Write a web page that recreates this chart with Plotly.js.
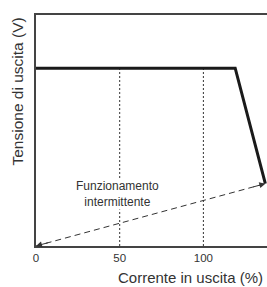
<!DOCTYPE html>
<html><head><meta charset="utf-8">
<script src="https://cdn.plot.ly/plotly-3.0.1.min.js"></script>
<style>html,body{margin:0;padding:0;background:#fff}</style>
</head><body>
<div id="chart" style="width:267px;height:287px"></div>
<script>
// Data
const curveX = [0, 119, 137];
const curveY = [77, 77, 27];
const intermX = [0, 137];
const intermY = [0, 27];
const refX = [50, 100];
const refTop = 77;
const tickVals = [0, 50, 100];
const tickText = ["0", "50", "100"];
const xTitle = "Corrente in uscita (%)";
const yTitle = "Tensione di uscita (V)";
const noteText = "Funzionamento<br>intermittente";

const traces = [];
refX.forEach(v => traces.push({
  x: [v, v], y: [0, refTop], mode: 'lines', hoverinfo: 'skip',
  line: {color: '#333', width: 1, dash: '2px,2px'}, showlegend: false
}));
traces.push({
  x: intermX, y: intermY, mode: 'lines',
  line: {color: '#333', width: 1, dash: '6px,4px'}, showlegend: false
});
traces.push({
  x: curveX, y: curveY, mode: 'lines',
  line: {color: '#1a1a1a', width: 3}, showlegend: false
});

const slope = intermY[1] / intermX[1];
const font = {family: 'Liberation Sans, Arial, sans-serif', color: '#333'};
const layout = {
  width: 267, height: 287,
  margin: {l: 36, r: 0, t: 15, b: 41},
  paper_bgcolor: '#fff', plot_bgcolor: '#fff',
  xaxis: {range: [0, 138], tickvals: tickVals, ticktext: tickText,
    showgrid: false, zeroline: false, showline: true, mirror: true,
    linecolor: '#444', linewidth: 2, ticks: '', ticklen: 0,
    tickfont: Object.assign({size: 11.5}, font)},
  yaxis: {range: [0, 100], showticklabels: false, showgrid: false, zeroline: false,
    showline: true, linecolor: '#444', linewidth: 2, ticks: ''},
  annotations: [
    {x: intermX[1], y: intermY[1], ax: intermX[1] - 8, ay: intermY[1] - 8 * slope,
     axref: 'x', ayref: 'y', xref: 'x', yref: 'y', text: '', showarrow: true,
     arrowhead: 2, arrowsize: 1.2, arrowwidth: 1, arrowcolor: '#333'},
    {x: intermX[0], y: intermY[0], ax: intermX[0] + 8, ay: intermY[0] + 8 * slope,
     axref: 'x', ayref: 'y', xref: 'x', yref: 'y', text: '', showarrow: true,
     arrowhead: 2, arrowsize: 1.2, arrowwidth: 1, arrowcolor: '#333'},
    {x: 48.5, y: 22.5, xref: 'x', yref: 'y', text: noteText, showarrow: false,
     bgcolor: '#fff', font: Object.assign({size: 12}, font), borderpad: 0},
    {x: 0.985, y: -0.137, xref: 'paper', yref: 'paper', xanchor: 'right', yanchor: 'middle',
     text: xTitle, showarrow: false, borderpad: 0, font: Object.assign({size: 15}, font)},
    {x: -0.082, y: 0.669, xref: 'paper', yref: 'paper', xanchor: 'center', yanchor: 'middle',
     text: yTitle, textangle: -90, showarrow: false, font: Object.assign({size: 15.5}, font)}
  ]
};
Plotly.newPlot('chart', traces, layout, {displayModeBar: false, staticPlot: true});
</script>
</body></html>
